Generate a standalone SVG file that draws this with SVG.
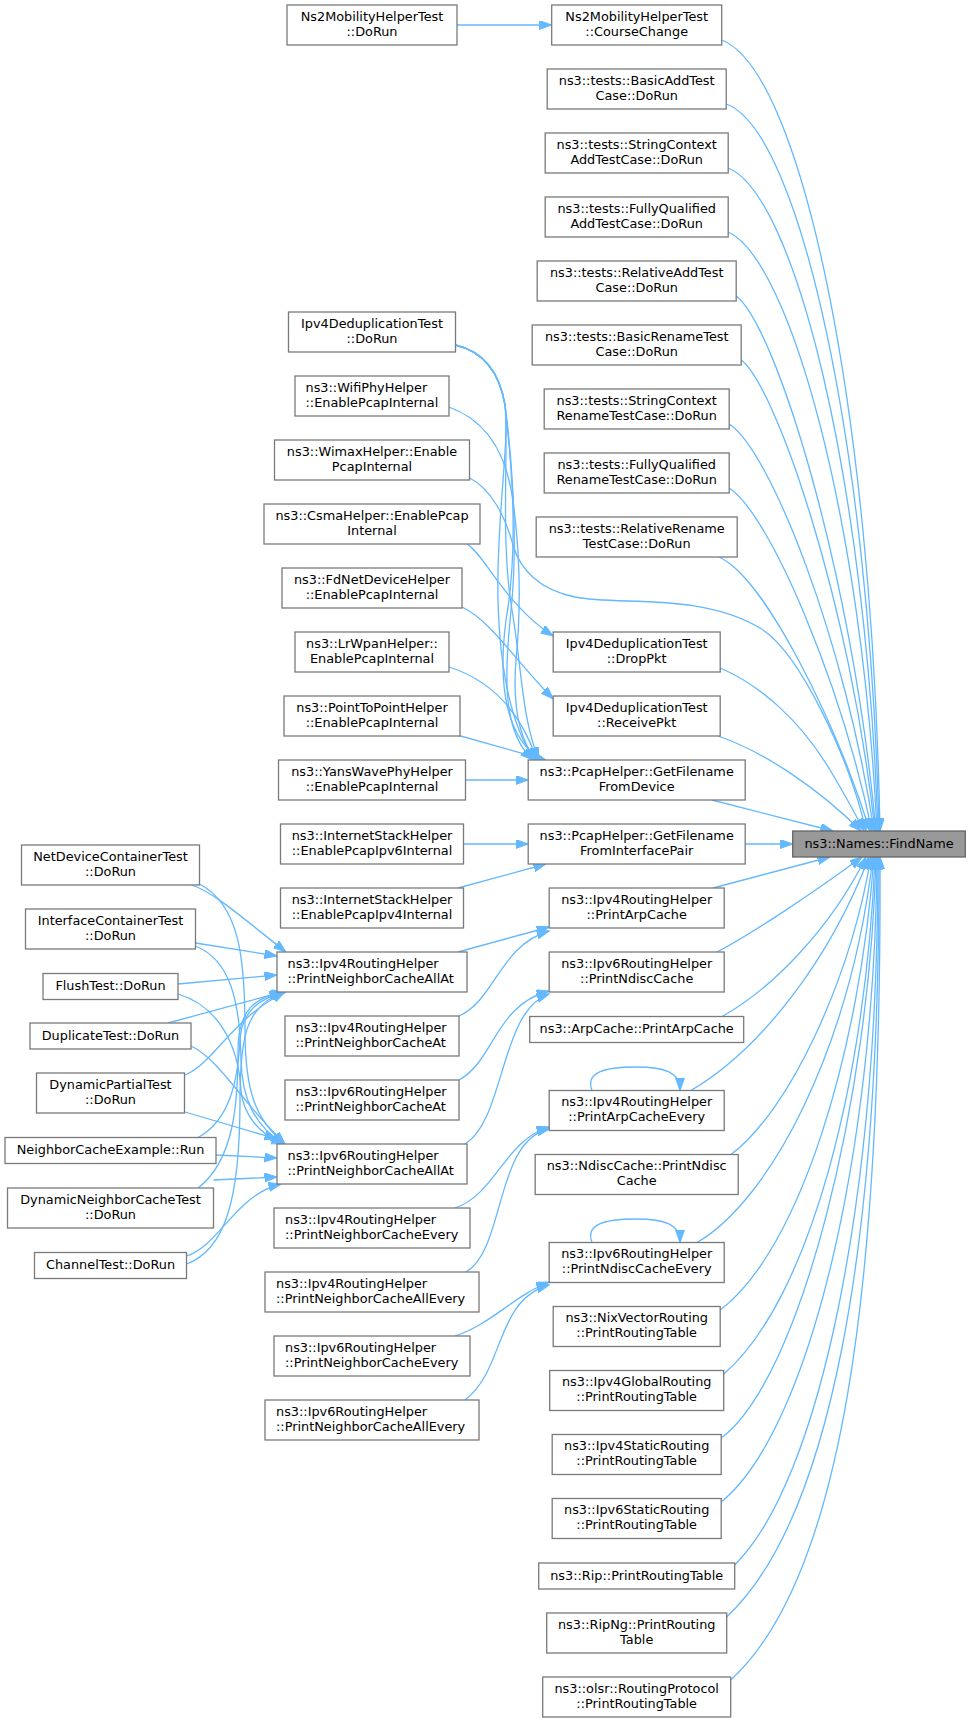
<svg xmlns="http://www.w3.org/2000/svg" width="971" height="1723" viewBox="0 0 971 1723">
<style>
.node rect{fill:#ffffff;stroke:#7a7a7a;stroke-width:1.3}
#n_findname rect{fill:#999999;stroke:#666666}
text{font-family:"DejaVu Sans","Noto Sans",sans-serif;font-size:12.85px;text-anchor:middle;fill:#000000}
text.l{text-anchor:start}
#edges path{fill:none;stroke:#63b8ff;stroke-width:1.3;marker-end:url(#ah)}
</style>
<defs>
<marker id="ah" markerUnits="userSpaceOnUse" markerWidth="14" markerHeight="10" refX="12.5" refY="4.5" orient="auto">
<path d="M0,0 L12.5,4.5 L0,9 Z" fill="#63b8ff" stroke="#63b8ff" stroke-width="1"/>
</marker>
</defs>
<rect width="971" height="1723" fill="#ffffff"/>
<g id="edges">
<path d="M457,25 L551.7,25"/>
<path d="M721.7,40 C800,70 872,400 880,831"/>
<path d="M726.2,104 C800,130 870,450 879,831"/>
<path d="M728.2,168 C795,195 866,480 878,831"/>
<path d="M728.2,232 C790,260 862,520 877,831"/>
<path d="M736.2,296 C775,325 852,570 876,831"/>
<path d="M741.2,360 C775,385 850,600 875,831"/>
<path d="M729.2,424 C770,450 845,640 874,831"/>
<path d="M729.2,488 C770,515 840,680 872,831"/>
<path d="M719,557 C765,578 835,720 870,831"/>
<path d="M469.5,478 C490,488 505,515 513,545 C520,570 540,590 575,597 C620,606 700,592 760,628 C800,652 850,760 866,831"/>
<path d="M720.2,668 C760,685 800,720 830,770 C845,795 856,815 864,831"/>
<path d="M718,736 C765,752 820,790 861,831"/>
<path d="M712,800 L833,831"/>
<path d="M745.2,844 L792.7,844"/>
<path d="M713,888 L830,857"/>
<path d="M717,952 C750,935 810,895 862,857"/>
<path d="M722,1016.5 C770,990 830,930 866,857"/>
<path d="M691,1090.5 C760,1050 830,960 869,857"/>
<path d="M731,1154.5 C790,1110 850,980 871,857"/>
<path d="M697,1242.5 C770,1200 850,1050 873,857"/>
<path d="M720.2,1310 C800,1250 860,1050 874,857"/>
<path d="M723.7,1374 C810,1300 866,1080 875,857"/>
<path d="M721.2,1438 C800,1380 870,1100 876,857"/>
<path d="M721.2,1502 C810,1430 875,1150 877,857"/>
<path d="M734.7,1565 C820,1480 878,1200 878,857"/>
<path d="M726.7,1617 C830,1520 880,1250 879,857"/>
<path d="M730.7,1680 C840,1580 882,1300 880,857"/>
<path d="M449,407 C485,420 505,450 512,495 C519,540 522,600 516,660 C512,710 520,740 536,760"/>
<path d="M455.5,345 C485,352 500,375 505,405 C510,440 496,520 498,600 C500,680 515,735 536,760"/>
<path d="M455.5,345 C485,352 500,375 505,405 C511,450 518,530 512,600 C505,670 500,730 533,760"/>
<path d="M455.5,345 C485,352 500,375 505,405 C509,445 500,540 512,610 C522,670 522,720 539,760"/>
<path d="M455.5,345 C485,352 500,375 505,405 C510,450 520,540 506,620 C497,690 508,740 542,760"/>
<path d="M467,544 C485,555 505,605 553.2,636"/>
<path d="M462,607 C490,620 515,660 553.2,699"/>
<path d="M449,667 C490,680 520,710 537,760"/>
<path d="M457,735 L546,760"/>
<path d="M465.5,780 L528.2,780"/>
<path d="M463.5,844 L528.2,844"/>
<path d="M458,888 L546,864"/>
<path d="M458,952 L549.2,927"/>
<path d="M459,1016 C495,1000 500,945 549.2,931"/>
<path d="M459,1080 C495,1060 495,1005 549.2,991"/>
<path d="M465,1144 C505,1120 500,1010 549.2,994"/>
<path d="M455,1208 C495,1195 505,1140 549.2,1127"/>
<path d="M466,1272 C505,1250 495,1140 549.2,1129"/>
<path d="M455,1336 C490,1325 515,1295 549.2,1282"/>
<path d="M465,1400 C505,1370 495,1300 549.2,1285"/>
<path d="M592,1090.5 C585,1072 605,1067 636,1067 C665,1067 680,1072 680,1090.5"/>
<path d="M592,1242.5 C585,1224 605,1219 636,1219 C665,1219 680,1224 680,1242.5"/>
<path d="M192,885 C215,893 245,920 286,952"/>
<path d="M199.5,884 C240,905 245,960 245,1030 C245,1090 255,1120 285,1144"/>
<path d="M195.5,943 L277,956"/>
<path d="M195.5,946 C230,960 240,1000 241,1060 C242,1100 255,1125 283,1144"/>
<path d="M178,984 L277,975"/>
<path d="M178,994 C215,1005 238,1040 241,1090 C243,1115 260,1135 284,1144"/>
<path d="M168,1023 L282,992"/>
<path d="M191,1046 C220,1060 240,1100 285,1144"/>
<path d="M185,1075 C215,1062 230,1020 285,992"/>
<path d="M185,1112 L277,1139"/>
<path d="M198,1137.5 C230,1120 238,1080 240,1040 C242,1010 260,998 286,992"/>
<path d="M216,1155 L277,1158"/>
<path d="M198,1188 C235,1160 238,1100 238,1050 C238,1010 255,997 284,992"/>
<path d="M213.5,1180 L277,1177"/>
<path d="M186.5,1256 C220,1245 235,1195 281,1184"/>
<path d="M186.5,1264 C225,1250 240,1200 240,1100 C240,1040 245,1005 284,992"/>
</g>

<g id="n_findname" class="node"><rect x="792.7" y="831" width="172.6" height="26"/><text x="879" y="847.5">ns3::Names::FindName</text></g>

<g id="n_coursechange" class="node"><rect x="551.7" y="5" width="170" height="40"/><text x="636.7" y="20.8">Ns2MobilityHelperTest</text><text x="636.7" y="35.8">::CourseChange</text></g>
<g id="n_basicadd" class="node"><rect x="547.2" y="69" width="179" height="40"/><text x="636.7" y="84.8">ns3::tests::BasicAddTest</text><text x="636.7" y="99.8">Case::DoRun</text></g>
<g id="n_scadd" class="node"><rect x="545.2" y="133" width="183" height="40"/><text x="636.7" y="148.8">ns3::tests::StringContext</text><text x="636.7" y="163.8">AddTestCase::DoRun</text></g>
<g id="n_fqadd" class="node"><rect x="545.2" y="197" width="183" height="40"/><text x="636.7" y="212.8">ns3::tests::FullyQualified</text><text x="636.7" y="227.8">AddTestCase::DoRun</text></g>
<g id="n_reladd" class="node"><rect x="537.2" y="261" width="199" height="40"/><text x="636.7" y="276.8">ns3::tests::RelativeAddTest</text><text x="636.7" y="291.8">Case::DoRun</text></g>
<g id="n_basicrename" class="node"><rect x="532.2" y="325" width="209" height="40"/><text x="636.7" y="340.8">ns3::tests::BasicRenameTest</text><text x="636.7" y="355.8">Case::DoRun</text></g>
<g id="n_screname" class="node"><rect x="544.2" y="389" width="185" height="40"/><text x="636.7" y="404.8">ns3::tests::StringContext</text><text x="636.7" y="419.8">RenameTestCase::DoRun</text></g>
<g id="n_fqrename" class="node"><rect x="544.2" y="453" width="185" height="40"/><text x="636.7" y="468.8">ns3::tests::FullyQualified</text><text x="636.7" y="483.8">RenameTestCase::DoRun</text></g>
<g id="n_relrename" class="node"><rect x="536.2" y="517" width="201" height="40"/><text x="636.7" y="532.8">ns3::tests::RelativeRename</text><text x="636.7" y="547.8">TestCase::DoRun</text></g>
<g id="n_droppkt" class="node"><rect x="553.2" y="632" width="167" height="40"/><text x="636.7" y="647.8">Ipv4DeduplicationTest</text><text x="636.7" y="662.8">::DropPkt</text></g>
<g id="n_receivepkt" class="node"><rect x="553.2" y="696" width="167" height="40"/><text x="636.7" y="711.8">Ipv4DeduplicationTest</text><text x="636.7" y="726.8">::ReceivePkt</text></g>
<g id="n_gfd" class="node"><rect x="528.2" y="760" width="217" height="40"/><text x="636.7" y="775.8">ns3::PcapHelper::GetFilename</text><text x="636.7" y="790.8">FromDevice</text></g>
<g id="n_gfip" class="node"><rect x="528.2" y="824" width="217" height="40"/><text x="636.7" y="839.8">ns3::PcapHelper::GetFilename</text><text x="636.7" y="854.8">FromInterfacePair</text></g>
<g id="n_pac" class="node"><rect x="549.2" y="888" width="175" height="40"/><text x="636.7" y="903.8">ns3::Ipv4RoutingHelper</text><text x="636.7" y="918.8">::PrintArpCache</text></g>
<g id="n_pnc" class="node"><rect x="549.2" y="952" width="175" height="40"/><text x="636.7" y="967.8">ns3::Ipv6RoutingHelper</text><text x="636.7" y="982.8">::PrintNdiscCache</text></g>
<g id="n_arpcache" class="node"><rect x="529.7" y="1016.5" width="214" height="26"/><text x="636.7" y="1033">ns3::ArpCache::PrintArpCache</text></g>
<g id="n_pace" class="node"><rect x="549.2" y="1090.5" width="175" height="40"/><text x="636.7" y="1106.3">ns3::Ipv4RoutingHelper</text><text x="636.7" y="1121.3">::PrintArpCacheEvery</text></g>
<g id="n_ndisccache" class="node"><rect x="535.2" y="1154.5" width="203" height="40"/><text x="636.7" y="1170.3">ns3::NdiscCache::PrintNdisc</text><text x="636.7" y="1185.3">Cache</text></g>
<g id="n_pnce" class="node"><rect x="549.2" y="1242.5" width="175" height="40"/><text x="636.7" y="1258.3">ns3::Ipv6RoutingHelper</text><text x="636.7" y="1273.3">::PrintNdiscCacheEvery</text></g>
<g id="n_nix" class="node"><rect x="553.2" y="1306.5" width="167" height="40"/><text x="636.7" y="1322.3">ns3::NixVectorRouting</text><text x="636.7" y="1337.3">::PrintRoutingTable</text></g>
<g id="n_ipv4global" class="node"><rect x="549.7" y="1370.5" width="174" height="40"/><text x="636.7" y="1386.3">ns3::Ipv4GlobalRouting</text><text x="636.7" y="1401.3">::PrintRoutingTable</text></g>
<g id="n_ipv4static" class="node"><rect x="552.2" y="1434.5" width="169" height="40"/><text x="636.7" y="1450.3">ns3::Ipv4StaticRouting</text><text x="636.7" y="1465.3">::PrintRoutingTable</text></g>
<g id="n_ipv6static" class="node"><rect x="552.2" y="1498.5" width="169" height="40"/><text x="636.7" y="1514.3">ns3::Ipv6StaticRouting</text><text x="636.7" y="1529.3">::PrintRoutingTable</text></g>
<g id="n_rip" class="node"><rect x="538.7" y="1563" width="196" height="26"/><text x="636.7" y="1579.5">ns3::Rip::PrintRoutingTable</text></g>
<g id="n_ripng" class="node"><rect x="546.7" y="1613" width="180" height="40"/><text x="636.7" y="1628.8">ns3::RipNg::PrintRouting</text><text x="636.7" y="1643.8">Table</text></g>
<g id="n_olsr" class="node"><rect x="542.7" y="1677" width="188" height="40"/><text x="636.7" y="1692.8">ns3::olsr::RoutingProtocol</text><text x="636.7" y="1707.8">::PrintRoutingTable</text></g>

<g id="n_ns2dorun" class="node"><rect x="287" y="5" width="170" height="40"/><text x="372" y="20.8">Ns2MobilityHelperTest</text><text x="372" y="35.8">::DoRun</text></g>
<g id="n_dedupdorun" class="node"><rect x="288.5" y="312" width="167" height="40"/><text x="372" y="327.8">Ipv4DeduplicationTest</text><text x="372" y="342.8">::DoRun</text></g>
<g id="n_wifi" class="node"><rect x="295" y="376" width="154" height="40"/><text class="l" x="305.5" y="391.8">ns3::WifiPhyHelper</text><text class="l" x="305.5" y="406.8">::EnablePcapInternal</text></g>
<g id="n_wimax" class="node"><rect x="274.5" y="440" width="195" height="40"/><text x="372" y="455.8">ns3::WimaxHelper::Enable</text><text x="372" y="470.8">PcapInternal</text></g>
<g id="n_csma" class="node"><rect x="264" y="504" width="216" height="40"/><text x="372" y="519.8">ns3::CsmaHelper::EnablePcap</text><text x="372" y="534.8">Internal</text></g>
<g id="n_fdnet" class="node"><rect x="282" y="568" width="180" height="40"/><text x="372" y="583.8">ns3::FdNetDeviceHelper</text><text x="372" y="598.8">::EnablePcapInternal</text></g>
<g id="n_lrwpan" class="node"><rect x="295" y="632" width="154" height="40"/><text x="372" y="647.8">ns3::LrWpanHelper::</text><text x="372" y="662.8">EnablePcapInternal</text></g>
<g id="n_p2p" class="node"><rect x="284" y="696" width="176" height="40"/><text x="372" y="711.8">ns3::PointToPointHelper</text><text x="372" y="726.8">::EnablePcapInternal</text></g>
<g id="n_yans" class="node"><rect x="278.5" y="760" width="187" height="40"/><text x="372" y="775.8">ns3::YansWavePhyHelper</text><text x="372" y="790.8">::EnablePcapInternal</text></g>
<g id="n_ish6" class="node"><rect x="280.5" y="824" width="183" height="40"/><text x="372" y="839.8">ns3::InternetStackHelper</text><text x="372" y="854.8">::EnablePcapIpv6Internal</text></g>
<g id="n_ish4" class="node"><rect x="280.5" y="888" width="183" height="40"/><text x="372" y="903.8">ns3::InternetStackHelper</text><text x="372" y="918.8">::EnablePcapIpv4Internal</text></g>
<g id="n_v4allat" class="node"><rect x="277" y="952" width="190" height="40"/><text class="l" x="287.5" y="967.8">ns3::Ipv4RoutingHelper</text><text class="l" x="287.5" y="982.8">::PrintNeighborCacheAllAt</text></g>
<g id="n_v4at" class="node"><rect x="285" y="1016" width="174" height="40"/><text class="l" x="295.5" y="1031.8">ns3::Ipv4RoutingHelper</text><text class="l" x="295.5" y="1046.8">::PrintNeighborCacheAt</text></g>
<g id="n_v6at" class="node"><rect x="285" y="1080" width="174" height="40"/><text class="l" x="295.5" y="1095.8">ns3::Ipv6RoutingHelper</text><text class="l" x="295.5" y="1110.8">::PrintNeighborCacheAt</text></g>
<g id="n_v6allat" class="node"><rect x="277" y="1144" width="190" height="40"/><text class="l" x="287.5" y="1159.8">ns3::Ipv6RoutingHelper</text><text class="l" x="287.5" y="1174.8">::PrintNeighborCacheAllAt</text></g>
<g id="n_v4every" class="node"><rect x="274" y="1208" width="196" height="40"/><text class="l" x="285" y="1223.8">ns3::Ipv4RoutingHelper</text><text class="l" x="285" y="1238.8">::PrintNeighborCacheEvery</text></g>
<g id="n_v4allevery" class="node"><rect x="265" y="1272" width="214" height="40"/><text class="l" x="276" y="1287.8">ns3::Ipv4RoutingHelper</text><text class="l" x="276" y="1302.8">::PrintNeighborCacheAllEvery</text></g>
<g id="n_v6every" class="node"><rect x="274" y="1336" width="196" height="40"/><text class="l" x="285" y="1351.8">ns3::Ipv6RoutingHelper</text><text class="l" x="285" y="1366.8">::PrintNeighborCacheEvery</text></g>
<g id="n_v6allevery" class="node"><rect x="265" y="1400" width="214" height="40"/><text class="l" x="276" y="1415.8">ns3::Ipv6RoutingHelper</text><text class="l" x="276" y="1430.8">::PrintNeighborCacheAllEvery</text></g>

<g id="n_netdevice" class="node"><rect x="21.5" y="845" width="178" height="40"/><text x="110.5" y="860.8">NetDeviceContainerTest</text><text x="110.5" y="875.8">::DoRun</text></g>
<g id="n_interface" class="node"><rect x="25.5" y="909" width="170" height="40"/><text x="110.5" y="924.8">InterfaceContainerTest</text><text x="110.5" y="939.8">::DoRun</text></g>
<g id="n_flush" class="node"><rect x="43" y="973.5" width="135" height="26"/><text x="110.5" y="990">FlushTest::DoRun</text></g>
<g id="n_duplicate" class="node"><rect x="30" y="1023" width="161" height="26"/><text x="110.5" y="1039.5">DuplicateTest::DoRun</text></g>
<g id="n_dynpartial" class="node"><rect x="36.5" y="1073" width="148" height="40"/><text x="110.5" y="1088.8">DynamicPartialTest</text><text x="110.5" y="1103.8">::DoRun</text></g>
<g id="n_nce" class="node"><rect x="5" y="1137.5" width="211" height="26"/><text x="110.5" y="1154">NeighborCacheExample::Run</text></g>
<g id="n_dnct" class="node"><rect x="7.5" y="1188" width="206" height="40"/><text x="110.5" y="1203.8">DynamicNeighborCacheTest</text><text x="110.5" y="1218.8">::DoRun</text></g>
<g id="n_channel" class="node"><rect x="34.5" y="1252.5" width="152" height="26"/><text x="110.5" y="1269">ChannelTest::DoRun</text></g>
</svg>
